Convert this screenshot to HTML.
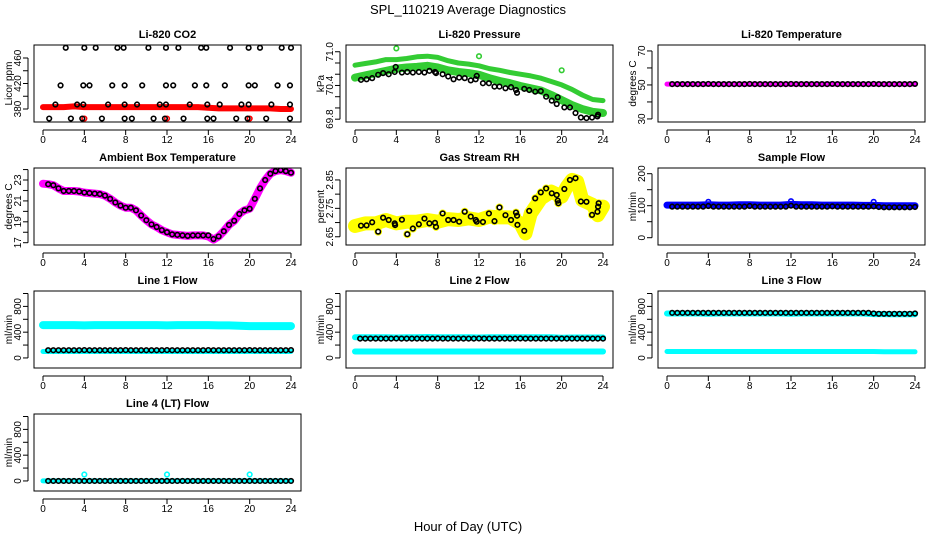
<!DOCTYPE html>
<html><head><meta charset="utf-8">
<style>
html,body{margin:0;padding:0;background:#fff;}
svg{display:block;font-family:"Liberation Sans",sans-serif;}
</style></head>
<body>
<svg id="chart" width="936" height="540" viewBox="0 0 936 540" xmlns="http://www.w3.org/2000/svg">
<rect width="936" height="540" fill="#fff"/>
<text x="468" y="14" text-anchor="middle" font-size="13">SPL_110219  Average Diagnostics</text>
<text x="468" y="531" text-anchor="middle" font-size="13">Hour of Day (UTC)</text>
</svg>
<script>
// ---------- data ----------
const xTickLabels=[0,4,8,12,16,20,24];
const HALF=[0.5,1,1.5,2,2.5,3,3.5,4,4.5,5,5.5,6,6.5,7,7.5,8,8.5,9,9.5,10,10.5,11,11.5,12,12.5,13,13.5,14,14.5,15,15.5,16,16.5,17,17.5,18,18.5,19,19.5,20,20.5,21,21.5,22,22.5,23,23.5,24];
const HOURS=[0,1,2,3,4,5,6,7,8,9,10,11,12,13,14,15,16,17,18,19,20,21,22,23,24];
const OUTLIER_HOURS=[4,12,20];

// CO2
const co2RedBand=[383,383,383,384,383,383,383,383,383,383,383,383,383,383,383,383,382,381,381,381,381,381,381,380,380];
const co2RedOutliers=[365,365,365];
const co2BlackHours=[2.2,4.0,5.1,7.2,7.8,10.2,11.9,13.1,15.3,15.8,18.1,19.9,21.0,23.1,24.0,
 1.7,3.9,4.5,6.7,7.9,9.6,11.9,12.6,14.7,15.8,17.6,19.9,20.5,22.7,23.9,
 1.2,3.3,3.9,6.3,7.9,9.1,11.3,11.9,14.2,15.9,17.1,19.2,19.9,22.1,23.9,
 0.6,2.7,3.8,5.7,7.9,8.6,10.7,11.8,13.6,15.9,16.5,18.7,19.8,21.6,23.9];
const co2BlackVals=[476,476,476,476,476,476,476,476,476,476,476,476,476,476,476,
 417,417,417,417,417,417,417,417,417,417,417,417,417,417,417,
 387,387,387,387,387,387,387,387,387,387,387,387,387,387,387,
 365,365,365,365,365,365,365,365,365,365,365,365,365,365,365];

// Pressure
const presUpper=[70.76,70.79,70.82,70.86,70.86,70.88,70.91,70.92,70.90,70.84,70.80,70.78,70.75,70.70,70.67,70.63,70.60,70.57,70.53,70.47,70.41,70.33,70.23,70.15,70.13];
const presLower=[70.54,70.58,70.62,70.66,70.70,70.72,70.73,70.75,70.72,70.67,70.64,70.62,70.59,70.53,70.48,70.44,70.39,70.35,70.31,70.23,70.14,70.05,69.98,69.93,69.91];
const presGreenOutliers=[71.06,70.92,70.67];
const presBlackHours=[0.58,1.12,1.66,2.24,2.72,3.26,3.84,3.94,4.54,5.06,5.6,6.18,6.72,7.2,7.74,7.84,8.48,9.02,9.54,10.08,10.62,11.2,11.68,11.78,12.38,12.96,13.5,13.98,14.56,15.1,15.58,15.68,16.38,16.86,17.44,17.98,18.5,19.04,19.52,19.62,20.26,20.8,21.34,21.86,22.4,22.94,23.46,23.52];
const presBlackVals=[70.50,70.51,70.53,70.59,70.62,70.60,70.64,70.73,70.63,70.64,70.63,70.64,70.63,70.66,70.64,70.62,70.60,70.56,70.51,70.54,70.53,70.49,70.51,70.57,70.44,70.44,70.38,70.38,70.35,70.37,70.32,70.27,70.34,70.32,70.29,70.30,70.20,70.13,70.07,70.19,70.01,70.01,69.91,69.83,69.82,69.83,69.85,69.88];

// Li-820 temperature
const tempMag=[50.5,50.5,50.5,50.5,50.5,50.5,50.5,50.5,50.5,50.5,50.5,50.5,50.5,50.5,50.5,50.5,50.5,50.5,50.5,50.5,50.5,50.5,50.5,50.5,50.5];
const tempBlack=[50.5,50.5,50.5,50.5,50.5,50.5,50.5,50.6,50.5,50.5,50.5,50.5,50.5,50.5,50.5,50.6,50.5,50.5,50.5,50.5,50.5,50.5,50.5,50.6,50.5,50.5,50.5,50.5,50.5,50.5,50.5,50.6,50.5,50.5,50.5,50.5,50.5,50.5,50.5,50.6,50.5,50.5,50.5,50.5,50.5,50.5,50.5,50.6];

// Ambient box temperature
const ambMag=[22.65,22.6,22.5,22.2,21.95,21.95,21.95,21.9,21.8,21.75,21.7,21.65,21.5,21.2,20.85,20.55,20.35,20.35,20.1,19.6,19.15,18.75,18.5,18.2,18.0,17.8,17.75,17.7,17.65,17.7,17.7,17.7,17.6,17.3,17.6,18.1,18.7,19.1,19.75,20.1,20.25,21.2,22.2,23.0,23.6,23.85,23.95,23.85,23.7];
const ambBlack=[22.6,22.5,22.2,21.95,21.95,21.95,21.9,21.8,21.75,21.7,21.65,21.5,21.2,20.85,20.55,20.35,20.35,20.1,19.6,19.15,18.75,18.5,18.2,18.0,17.8,17.75,17.7,17.65,17.7,17.7,17.7,17.7,17.35,17.6,18.1,18.7,19.1,19.75,20.1,20.25,21.2,22.2,23.0,23.6,23.85,23.95,23.85,23.7];

// Gas stream RH
const rhYellowHours=[0,1,2,3,4,5,6,7,8,9,10,11,12,13,14,15,16,16.5,17,18,19,20,20.5,21,21.5,22,23,23.5,24];
const rhYellow=[2.688,2.697,2.697,2.709,2.697,2.703,2.703,2.709,2.703,2.712,2.709,2.715,2.709,2.721,2.718,2.718,2.697,2.662,2.732,2.785,2.809,2.791,2.826,2.85,2.844,2.779,2.762,2.726,2.756];
const rhBlackHours=[0.58,1.12,1.66,2.24,2.72,3.26,3.84,3.88,4.54,5.06,5.6,6.18,6.72,7.2,7.74,7.84,8.48,9.02,9.54,10.08,10.62,11.2,11.68,11.78,12.38,12.96,13.5,13.98,14.56,15.1,15.58,15.68,15.72,16.38,16.86,17.44,17.98,18.5,19.04,19.52,19.62,19.68,20.26,20.8,21.34,21.86,22.4,22.94,23.46,23.52,23.58];
const rhBlack=[2.689,2.690,2.701,2.668,2.717,2.709,2.697,2.691,2.710,2.659,2.679,2.694,2.714,2.697,2.699,2.685,2.732,2.709,2.709,2.703,2.738,2.721,2.709,2.703,2.702,2.732,2.705,2.753,2.726,2.709,2.735,2.724,2.692,2.671,2.741,2.785,2.806,2.820,2.803,2.797,2.777,2.768,2.818,2.850,2.856,2.774,2.773,2.727,2.738,2.756,2.768];

// Sample flow
const sampleBlue=[102,102,102,102,103,102,102,103,103,102,102,102,104,103,103,102,102,102,102,101,101,100,100,100,100];
const sampleBlueOutliers=[112,114,112];
const sampleBlack=[97,97,97,97,97,97,97,99,97,97,97,97,97,97,97,99,97,97,97,97,97,97,97,100,97,97,97,97,97,97,97,98,97,97,97,97,97,97,97,98,96,95,95,95,95,95,95,96];

// Line flows
const line1Upper=[510,510,510,510,505,510,510,510,510,510,510,510,505,510,510,510,510,505,505,500,495,495,495,495,495];
const line1Lower=[100,100,100,100,100,100,100,100,100,100,100,100,100,100,100,100,100,100,100,100,100,100,100,100,100];
const line1Black=[120,120,120,120,120,120,120,122,120,120,120,120,120,120,120,122,120,120,120,120,120,120,120,122,120,120,120,120,120,120,120,122,120,120,120,120,120,120,120,122,120,120,120,120,120,120,120,122];
const line2Upper=[320,320,320,320,318,320,320,325,320,320,320,320,318,322,322,322,320,320,320,320,315,318,318,318,318];
const line2Lower=[100,100,100,100,100,100,100,100,100,100,100,100,100,100,100,100,100,100,100,100,100,100,100,100,100];
const line2Black=[300,300,300,300,300,300,300,302,300,300,300,300,300,300,300,302,300,300,300,300,300,300,300,302,300,300,300,300,300,300,300,302,300,300,300,300,300,300,300,300,300,300,300,300,300,300,300,300];
const line3Upper=[690,690,690,690,685,690,690,690,690,690,690,690,685,690,690,690,690,690,690,690,680,680,678,678,678];
const line3Lower=[100,100,100,100,100,100,100,100,100,100,100,100,100,100,100,100,100,100,100,100,100,95,95,95,95];
const line3Black=[700,700,700,700,700,700,700,700,700,700,700,700,700,700,700,700,700,700,700,700,700,700,700,700,700,700,700,700,700,700,700,700,700,700,700,700,700,700,700,690,685,685,685,685,685,685,685,690];
const line4Cyan=[0,0,0,0,0,0,0,0,0,0,0,0,0,0,0,0,0,0,0,0,0,0,0,0,0];
const line4CyanOutliers=[100,100,100];
const line4Black=[0,0,0,0,0,0,0,0,0,0,0,0,0,0,0,0,0,0,0,0,0,0,0,0,0,0,0,0,0,0,0,0,0,0,0,0,0,0,0,0,0,0,0,0,0,0,0,0];

// axis tick sets
const co2Ticks=[380,400,420,440,460], co2Labels=[380,420,460];
const presTicks=[69.8,70.0,70.2,70.4,70.6,70.8,71.0], presLabels=[69.8,70.4,71.0];
const tempTicks=[30,40,50,60,70], tempLabels=[30,50,70];
const ambTicks=[17,18,19,20,21,22,23,24], ambLabels=[17,19,21,23];
const rhTicks=[2.65,2.70,2.75,2.80,2.85], rhLabels=[2.65,2.75,2.85];
const sampleTicks=[0,50,100,150,200], sampleLabels=[0,100,200];
const flowTicks=[0,200,400,600,800,1000], flowLabels=[0,400,800];

// ---------- drawing ----------
const NS="http://www.w3.org/2000/svg";
const svg=document.getElementById('chart');
function mk(tag,attrs,parent){const e=document.createElementNS(NS,tag);for(const k in attrs)e.setAttribute(k,attrs[k]);(parent||svg).appendChild(e);return e;}
const COLX=[0,312,624], ROWY=[45,168,291,414], BOXH=77;

function makePanel(col,row,ylim,title,ytitle,ticks,labels,name,dec){
  const x0=COLX[col], top=ROWY[row], bot=top+BOXH, left=x0+34, right=x0+301;
  const g=mk('g',{});
  
  
  const xs=h=>x0+43+h*(248/24);
  const ys=v=>bot-(v-ylim[0])/(ylim[1]-ylim[0])*BOXH;
  const t=mk('text',{x:(left+right)/2,y:top-7,'text-anchor':'middle','font-size':11,'font-weight':'bold'},g);
  t.textContent=title;
  
  
  const yt=mk('text',{x:x0+12,y:(top+bot)/2,'text-anchor':'middle','font-size':10,transform:`rotate(-90 ${x0+12} ${(top+bot)/2})`},g);
  yt.textContent=ytitle;
  
  
  const ax=mk('g',{stroke:'#000','stroke-width':1},g);
  
  
  mk('line',{x1:xs(0),x2:xs(24),y1:bot+8,y2:bot+8},ax);
  xTickLabels.forEach(h=>{
    mk('line',{x1:xs(h),x2:xs(h),y1:bot+8,y2:bot+13},ax);
    const l=mk('text',{x:xs(h),y:bot+21,'text-anchor':'middle','font-size':10},g);
    l.textContent=h;
    
    
  });
  mk('line',{x1:left-6,x2:left-6,y1:ys(ticks[0]),y2:ys(ticks[ticks.length-1])},ax);
  ticks.forEach(v=>{mk('line',{x1:left-11,x2:left-6,y1:ys(v),y2:ys(v)},ax);});
  labels.forEach(v=>{
    const X=left-13, Y=ys(v);
    const l=mk('text',{x:X,y:Y,'text-anchor':'middle','font-size':10,transform:`rotate(-90 ${X} ${Y})`},g);
    l.textContent=v.toFixed(dec||0);
    
    
  });
  const clipId='clip-'+name;
  const cp=mk('clipPath',{id:clipId},g);
  mk('rect',{x:left,y:top,width:right-left,height:BOXH},cp);
  const plot=mk('g',{'clip-path':`url(#${clipId})`},g);
  
  
  const box=mk('rect',{x:left,y:top,width:right-left,height:BOXH,fill:'none',stroke:'#000','stroke-width':1},g);
  
  
  return {plot,xs,ys,name};
}
function band(P,hours,vals,color,w,label){
  const pts=hours.map((h,i)=>P.xs(h).toFixed(1)+','+P.ys(vals[i]).toFixed(1)).join(' ');
  const pl=mk('polyline',{points:pts,fill:'none',stroke:color,'stroke-width':w,'stroke-linejoin':'round','stroke-linecap':'round'},P.plot);
  
  
}
function points(P,hours,vals,color,label,r){
  const g=mk('g',{fill:'none',stroke:color,'stroke-width':1.6},P.plot);
  
  
  hours.forEach((h,i)=>{
    const c=mk('circle',{cx:P.xs(h),cy:P.ys(vals[i]),r:r||2.3},g);
    
    
  });
}

// CO2
let P=makePanel(0,0,[359.6,480.4],'Li-820 CO2','Licor ppm',co2Ticks,co2Labels,'co2',0);
band(P,HOURS,co2RedBand,'#ff0000',6,'red-band');
points(P,OUTLIER_HOURS,co2RedOutliers,'#ff0000','red-outliers');
points(P,co2BlackHours,co2BlackVals,'#000','black-points');
// Pressure
P=makePanel(1,0,[69.75,71.12],'Li-820 Pressure','kPa',presTicks,presLabels,'pressure',1);
band(P,HOURS,presUpper,'#33cc33',5,'upper-band');
band(P,HOURS,presLower,'#33cc33',8,'lower-band');
points(P,OUTLIER_HOURS,presGreenOutliers,'#33cc33','green-outliers');
points(P,presBlackHours,presBlackVals,'#000','black-points');
// Temp
P=makePanel(2,0,[28.2,73.5],'Li-820 Temperature','degrees C',tempTicks,tempLabels,'li820-temp',0);
band(P,HOURS,tempMag,'#ff00ff',5,'magenta-band');
points(P,HALF,tempBlack,'#000','black-points');
// Ambient
P=makePanel(0,1,[16.78,24.15],'Ambient Box Temperature','degrees C',ambTicks,ambLabels,'ambient-temp',0);
band(P,[0].concat(HALF),ambMag,'#ff00ff',8,'magenta-band');
points(P,HALF,ambBlack,'#000','black-points');
// RH
P=makePanel(1,1,[2.621,2.892],'Gas Stream RH','percent',rhTicks,rhLabels,'gas-rh',2);
band(P,rhYellowHours,rhYellow,'#ffff00',14,'yellow-band');
points(P,rhBlackHours,rhBlack,'#ffff00','yellow-points',3.2);
points(P,rhBlackHours,rhBlack,'#000','black-points');
// Sample flow
P=makePanel(2,1,[-22.8,217.8],'Sample Flow','ml/min',sampleTicks,sampleLabels,'sample-flow',0);
band(P,HOURS,sampleBlue,'#0000ff',7,'blue-band');
points(P,OUTLIER_HOURS,sampleBlueOutliers,'#0000ff','blue-outliers');
points(P,HALF,sampleBlack,'#000','black-points');
// Line flows
const FL=[-156,1039];
P=makePanel(0,2,FL,'Line 1 Flow','ml/min',flowTicks,flowLabels,'line1-flow',0);
band(P,HOURS,line1Upper,'#00ffff',8,'cyan-upper-band');
band(P,HOURS,line1Lower,'#00ffff',5,'cyan-lower-band');
points(P,HALF,line1Black,'#000','black-points');
P=makePanel(1,2,FL,'Line 2 Flow','ml/min',flowTicks,flowLabels,'line2-flow',0);
band(P,HOURS,line2Upper,'#00ffff',6,'cyan-upper-band');
band(P,HOURS,line2Lower,'#00ffff',6,'cyan-lower-band');
points(P,HALF,line2Black,'#000','black-points');
P=makePanel(2,2,FL,'Line 3 Flow','ml/min',flowTicks,flowLabels,'line3-flow',0);
band(P,HOURS,line3Upper,'#00ffff',6,'cyan-upper-band');
band(P,HOURS,line3Lower,'#00ffff',5,'cyan-lower-band');
points(P,HALF,line3Black,'#000','black-points');
P=makePanel(0,3,FL,'Line 4 (LT) Flow','ml/min',flowTicks,flowLabels,'line4-flow',0);
band(P,HOURS,line4Cyan,'#00ffff',5,'cyan-band');
points(P,OUTLIER_HOURS,line4CyanOutliers,'#00ffff','cyan-outliers');
points(P,HALF,line4Black,'#000','black-points');
</script>
</body></html>
